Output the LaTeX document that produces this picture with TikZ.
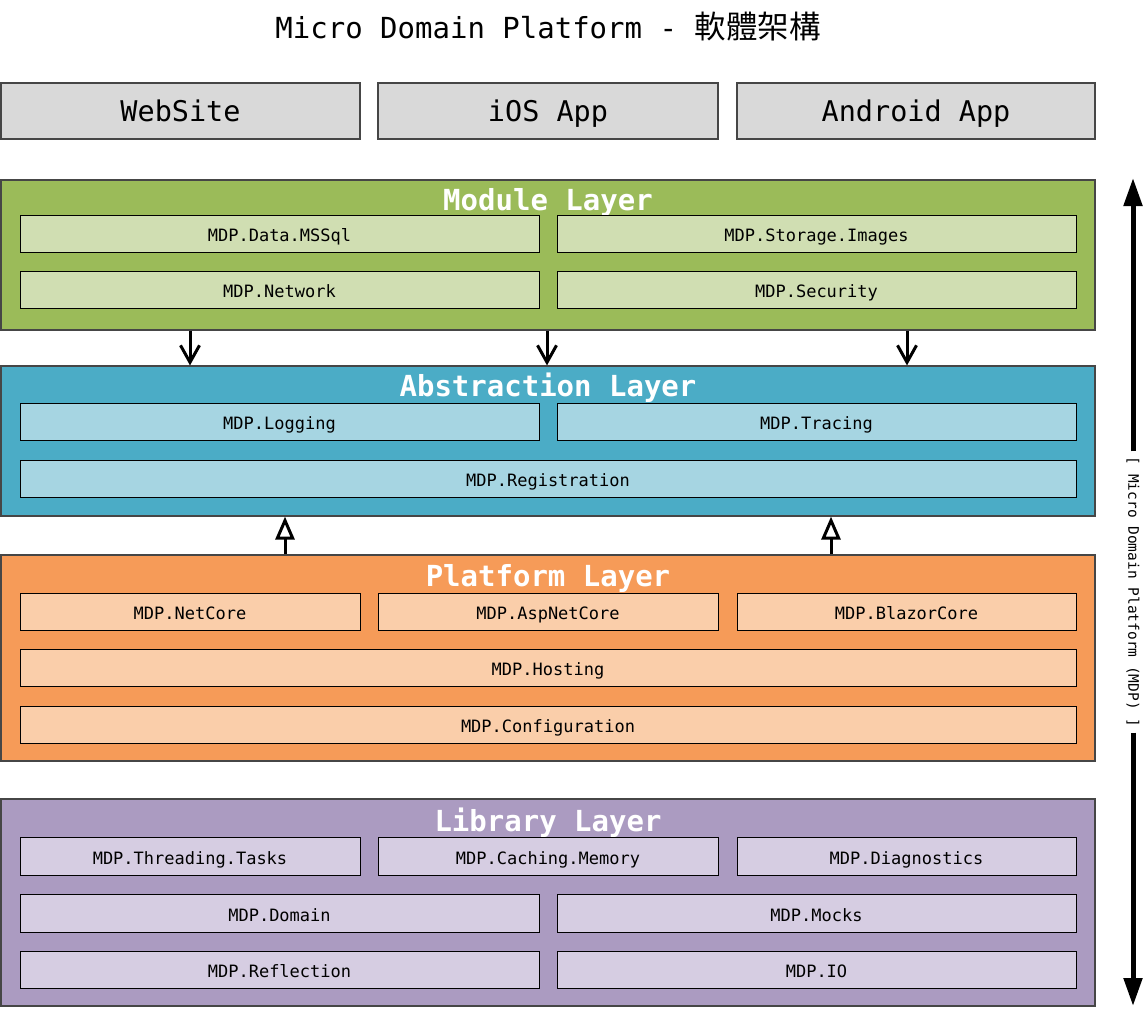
\documentclass[tikz,border=0pt]{standalone}
\usepackage{fontspec}
\setmonofont{DejaVu Sans Mono}
\newfontfamily\cjkfont{Noto Sans CJK TC}
\usetikzlibrary{positioning,arrows.meta}
\definecolor{mdpEdge}{RGB}{70,70,70}
\definecolor{mdpGray}{RGB}{217,217,217}
\definecolor{mdpGreen}{RGB}{155,187,89}
\definecolor{mdpGreenLight}{RGB}{208,222,178}
\definecolor{mdpBlue}{RGB}{75,172,198}
\definecolor{mdpBlueLight}{RGB}{166,213,226}
\definecolor{mdpOrange}{RGB}{246,155,88}
\definecolor{mdpOrangeLight}{RGB}{250,206,170}
\definecolor{mdpPurple}{RGB}{171,155,193}
\definecolor{mdpPurpleLight}{RGB}{214,205,226}
\tikzset{
    base/.style={font=\ttfamily, align=center, inner sep=0pt},
    client/.style={base, rectangle, draw=mdpEdge, line width=1.2pt, fill=mdpGray,
                   minimum height=56pt, text height=20.8pt, text depth=0pt,
                   font=\ttfamily\fontsize{28.5}{32}\selectfont},
    layer/.style={base, rectangle, draw=mdpEdge, line width=1.2pt, minimum width=1094pt},
    layertitle/.style={base, text=white, text height=21pt, text depth=0pt,
                       font=\ttfamily\bfseries\fontsize{29}{32}\selectfont},
    pkg/.style={base, rectangle, draw=black, line width=0.9pt, minimum height=37pt,
                text height=16.5pt, text depth=0pt,
                font=\ttfamily\fontsize{17}{20}\selectfont},
    half/.style={pkg, minimum width=519pt},
    third/.style={pkg, minimum width=340pt},
    full/.style={pkg, minimum width=1056pt},
    flowdown/.style={-{Straight Barb[length=17pt,width=19pt]}, line width=3pt, color=black},
    flowup/.style={-{Triangle[open,length=23pt,width=19pt]}, line width=3pt, color=black},
    spanarrow/.style={-{Triangle[length=28pt,width=18pt]}, line width=5pt, color=black}
}
\begin{document}
\begin{tikzpicture}[x=1pt,y=-1pt]
  \useasboundingbox (0,0) rectangle (1148,1009);

  % Title
  \node[base, text height=21pt, text depth=0pt, font=\ttfamily\fontsize{29}{32}\selectfont] (title) at (548,28)
       {Micro Domain Platform - {\cjkfont\fontsize{31.5}{34}\selectfont 軟體架構}};

  % Clients
  \node[client, minimum width=359pt] (website) at (180.5,111) {WebSite};
  \node[client, minimum width=340pt] (ios) at (548,111) {iOS App};
  \node[client, minimum width=358pt] (android) at (916,111) {Android App};

  % Module layer
  \node[layer, fill=mdpGreen, minimum height=150pt] (module) at (548,255) {};
  \node[layertitle] (moduletitle) at (548,200) {Module Layer};
  \node[half, fill=mdpGreenLight] (mssql) at (279.5,233.5) {MDP.Data.MSSql};
  \node[half, fill=mdpGreenLight] (images) at (816.5,233.5) {MDP.Storage.Images};
  \node[half, fill=mdpGreenLight] (network) at (279.5,289.5) {MDP.Network};
  \node[half, fill=mdpGreenLight] (security) at (816.5,289.5) {MDP.Security};

  % Abstraction layer
  \node[layer, fill=mdpBlue, minimum height=150pt] (abstraction) at (548,441) {};
  \node[layertitle] (abstractiontitle) at (548,386) {Abstraction Layer};
  \node[half, fill=mdpBlueLight] (logging) at (279.5,421.5) {MDP.Logging};
  \node[half, fill=mdpBlueLight] (tracing) at (816.5,421.5) {MDP.Tracing};
  \node[full, fill=mdpBlueLight] (registration) at (548,478.5) {MDP.Registration};

  % Platform layer
  \node[layer, fill=mdpOrange, minimum height=206pt] (platform) at (548,658) {};
  \node[layertitle] (platformtitle) at (548,576) {Platform Layer};
  \node[third, fill=mdpOrangeLight] (netcore) at (190,611.5) {MDP.NetCore};
  \node[third, fill=mdpOrangeLight] (aspnetcore) at (548,611.5) {MDP.AspNetCore};
  \node[third, fill=mdpOrangeLight, minimum width=339pt] (blazorcore) at (906.5,611.5) {MDP.BlazorCore};
  \node[full, fill=mdpOrangeLight] (hosting) at (548,667.5) {MDP.Hosting};
  \node[full, fill=mdpOrangeLight] (configuration) at (548,724.5) {MDP.Configuration};

  % Library layer
  \node[layer, fill=mdpPurple, minimum height=207pt] (library) at (548,902.5) {};
  \node[layertitle] (librarytitle) at (548,821) {Library Layer};
  \node[third, fill=mdpPurpleLight, minimum height=38pt] (tasks) at (190,856) {MDP.Threading.Tasks};
  \node[third, fill=mdpPurpleLight, minimum height=38pt] (memory) at (548,856) {MDP.Caching.Memory};
  \node[third, fill=mdpPurpleLight, minimum height=38pt, minimum width=339pt] (diagnostics) at (906.5,856) {MDP.Diagnostics};
  \node[half, fill=mdpPurpleLight, minimum height=38pt] (domain) at (279.5,913) {MDP.Domain};
  \node[half, fill=mdpPurpleLight, minimum height=38pt] (mocks) at (816.5,913) {MDP.Mocks};
  \node[half, fill=mdpPurpleLight] (reflection) at (279.5,969.5) {MDP.Reflection};
  \node[half, fill=mdpPurpleLight] (io) at (816.5,969.5) {MDP.IO};

  % Arrows between layers
  \foreach \x/\n in {190/d1, 547/d2, 907/d3, 285/u1, 831/u2}
    \coordinate (\n) at (\x,0);
  \foreach \n in {d1, d2, d3}
    \draw[flowdown] (module.south -| \n) -- (abstraction.north -| \n);
  \foreach \n in {u1, u2}
    \draw[flowup] (platform.north -| \n) -- (abstraction.south -| \n);

  % Span of the whole platform
  \node[base, rotate=-90, inner xsep=5pt, font=\ttfamily\fontsize{14.5}{16}\selectfont] (span) at (1133,592)
       {[ Micro Domain Platform (MDP) ]};
  \coordinate (spantop) at (1133,178);
  \coordinate (spanbot) at (1133,1006);
  \draw[spanarrow] (span.west) -- (spantop);
  \draw[spanarrow] (span.east) -- (spanbot);
\end{tikzpicture}
\end{document}
